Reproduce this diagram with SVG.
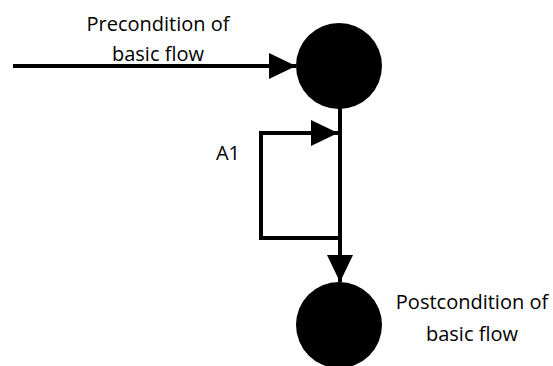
<svg xmlns="http://www.w3.org/2000/svg" width="553" height="366" viewBox="0 0 553 366">
<style>
.t{font-family:"Open Sans","Liberation Sans",sans-serif;font-size:20px;fill:#000}
.c{stroke:#000;stroke-width:4;fill:none}
</style>
<defs>
<marker id="ah" markerUnits="userSpaceOnUse" markerWidth="28" markerHeight="28" refX="27" refY="13" orient="auto">
<path d="M0,0 L27,13 L0,26 Z" fill="#000"/>
</marker>
</defs>
<rect width="553" height="366" fill="#fff"/>
<g id="connectors">
<line class="c" x1="13" y1="66" x2="296" y2="66" marker-end="url(#ah)"/>
<line class="c" x1="340" y1="100" x2="340" y2="282" marker-end="url(#ah)"/>
<polyline class="c" points="340,238 261,238 261,133 338,133" marker-end="url(#ah)"/>
</g>
<g id="start">
<circle cx="339" cy="66" r="43" fill="#000"/>
</g>
<g id="end">
<circle cx="339" cy="325" r="43" fill="#000"/>
</g>
<g id="labels">
<text class="t" x="158" y="31" text-anchor="middle">Precondition of</text>
<text class="t" x="158" y="61" text-anchor="middle">basic flow</text>
<text class="t" x="228" y="160" text-anchor="middle">A1</text>
<text class="t" x="472" y="309" text-anchor="middle">Postcondition of</text>
<text class="t" x="472" y="341" text-anchor="middle">basic flow</text>
</g>
</svg>
